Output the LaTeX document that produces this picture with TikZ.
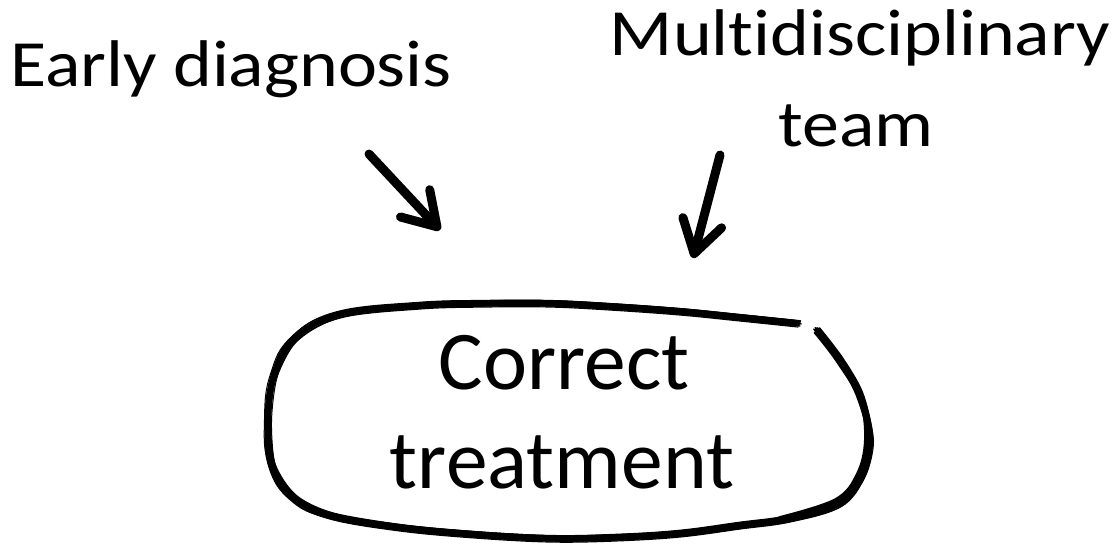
\documentclass[tikz,border=0pt]{standalone}
\usepackage{fontspec}
\setmainfont{Carlito}[Ligatures=NoCommon]
\usetikzlibrary{arrows.meta}

\tikzset{
  lbl/.style={inner sep=0pt, anchor=base, font=\fontsize{19.8}{24}\selectfont},
  boxlbl/.style={inner sep=0pt, anchor=base, font=\fontsize{25.05}{30}\selectfont},
  sketcharrow/.style={line width=2.7pt, line cap=round, line join=round,
    -{Straight Barb[length=9.6pt,width=12pt,round]}},
}
\newcommand{\wide}[1]{\scalebox{1.12}[1]{#1}}

\begin{document}
\begin{tikzpicture}[x=0.3pt, y=-0.3pt]
  \useasboundingbox (0,0) rectangle (1115,548);

  % labels
  \node[lbl] (early) at (231,86) {\wide{Early diagnosis}};
  \node[lbl] (multi) at (860,55) {\wide{Multidisciplinary}};
  \node[lbl] (team) at (856,146) {\wide{team}};
  \node[boxlbl] (correct) at (564,389) {Correct};
  \node[boxlbl] (treat) at (562,488) {treatment};

  % arrows
  \coordinate (e1) at (369,154);
  \coordinate (e2) at (440,230);
  \coordinate (m1) at (720,155);
  \coordinate (m2) at (693,258);
  \draw[sketcharrow] (e1) -- (e2);
  \draw[sketcharrow] (m1) -- (m2);

  % hand drawn rim, a few passes
  \foreach \dx/\dy/\wd/\tn in {0/0/1.7/0.6, 2.5/-2/0.5/0.5, -2.5/2.5/0.6/0.7, 2/3/0.4/0.55,
      -2/-2.5/0.4/0.65, 3.5/1/0.3/0.45, -3.5/-1/0.3/0.75, 0/4/0.35/0.6} {
    \draw[line width=\wd pt, line cap=round, line join=round, shift={(\dx,\dy)}]
      plot[smooth, tension=\tn] coordinates {(798,323) (740,317) (680,311) (610,306) (550,303)
        (485,303) (420,305) (340,314) (295,338) (274,375) (268,420) (272,465) (293,497)
        (330,515) (400,527) (475,534) (550,538) (615,537) (680,533) (740,525) (790,518)
        (840,503) (862,475) (870,440) (860,395) (840,360) (817,330)};
  }
  % heavier strokes down the right side
  \draw[line width=1.2pt, line cap=round] plot[smooth, tension=0.6] coordinates
    {(819,334) (842,364) (861,398) (866,440) (858,474) (836,500) (780,518)};
\end{tikzpicture}
\end{document}
